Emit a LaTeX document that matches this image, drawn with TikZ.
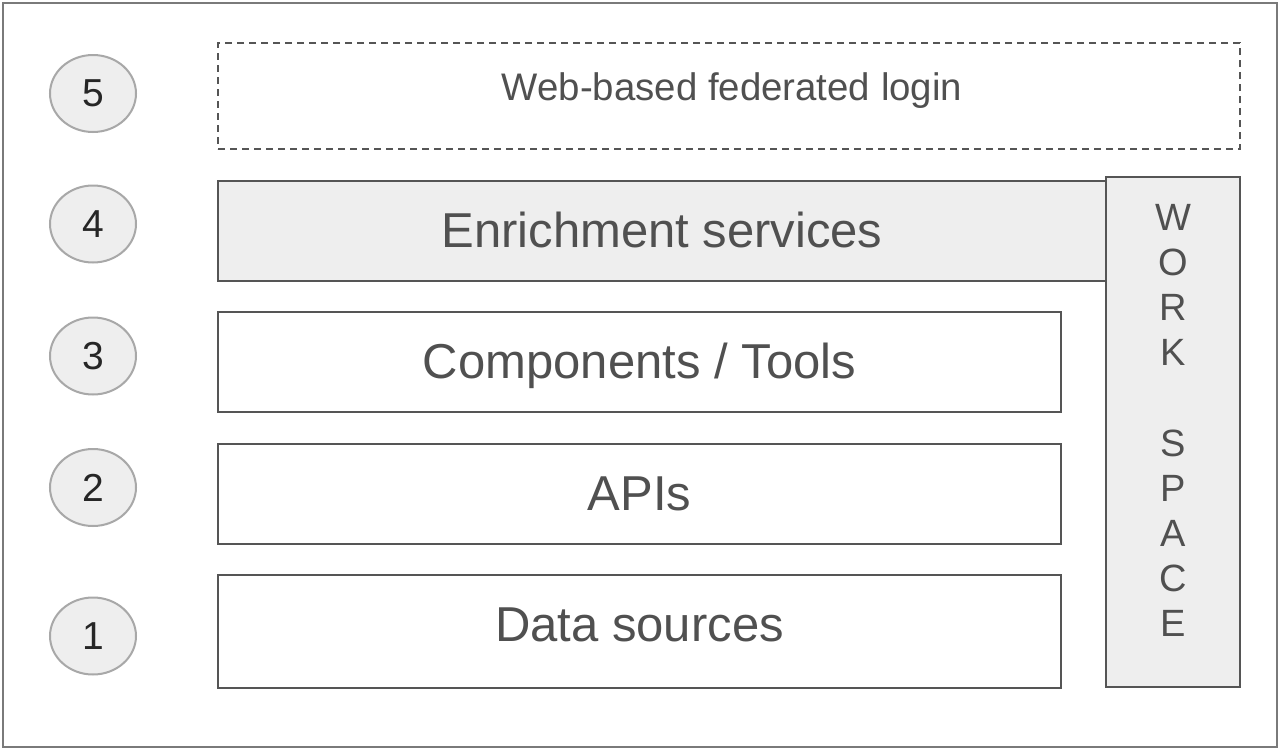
\documentclass[tikz,border=0pt]{standalone}
\usepackage{fontspec}
\setmainfont{Liberation Sans}
\usetikzlibrary{shapes.geometric}
\definecolor{boxline}{HTML}{555555}
\definecolor{boxfill}{HTML}{EEEEEE}
\definecolor{circline}{HTML}{A8A8A8}
\definecolor{txtgray}{HTML}{505050}
\definecolor{frameline}{HTML}{7A7A7A}
\tikzset{
  layerbox/.style={draw=boxline, line width=2.5pt, rectangle, inner sep=0pt, outer sep=0pt},
  dashbox/.style={draw=boxline, line width=2pt, dash pattern=on 7pt off 5pt, rectangle, inner sep=0pt, outer sep=0pt},
  numcirc/.style={ellipse, draw=circline, line width=2pt, fill=boxfill, minimum width=86pt, minimum height=77pt, inner sep=0pt, text=black!85, font=\fontsize{39}{39}\selectfont},
  biglbl/.style={anchor=base, inner sep=0pt, text=txtgray, font=\fontsize{49}{49}\selectfont},
  smalllbl/.style={anchor=base, inner sep=0pt, text=txtgray, font=\fontsize{38.4}{38.4}\selectfont},
  wslbl/.style={anchor=base, inner sep=0pt, text=txtgray, font=\fontsize{38}{38}\selectfont},
}
\begin{document}
\begin{tikzpicture}[x=1pt, y=-1pt]
\useasboundingbox (0,0) rectangle (1280,750);
\fill[white] (0,0) rectangle (1280,750);
\draw[frameline, line width=2pt] (3,3) rectangle (1277,747);
% number circles
\node[numcirc] (c5) at (93,93.5) {5};
\node[numcirc] (c4) at (93,224) {4};
\node[numcirc] (c3) at (93,356) {3};
\node[numcirc] (c2) at (93,487.5) {2};
\node[numcirc] (c1) at (93,636) {1};
% layers
\node[dashbox, minimum width=1022pt, minimum height=106pt] (login) at (729,96) {};
\node[smalllbl] (loginlbl) at (732,100) {Web-based federated login};
\node[layerbox, fill=boxfill, minimum width=888pt, minimum height=100pt] (enrich) at (662,231) {};
\node[biglbl] (enrichlbl) at (662,247.5) {Enrichment services};
\node[layerbox, minimum width=843pt, minimum height=100pt] (comp) at (639.5,362) {};
\node[biglbl] (complbl) at (639.5,378.5) {Components / Tools};
\node[layerbox, minimum width=843pt, minimum height=100pt] (apis) at (639.5,494) {};
\node[biglbl] (apislbl) at (639.5,510.5) {APIs};
\node[layerbox, minimum width=843pt, minimum height=113pt] (data) at (639.5,631.5) {};
\node[biglbl] (datalbl) at (639.5,641.5) {Data sources};
% workspace
\node[layerbox, fill=boxfill, minimum width=134pt, minimum height=510pt] (ws) at (1173,432) {};
\foreach \ch/\i in {W/0,O/1,R/2,K/3,S/5,P/6,A/7,C/8,E/9}{
  \node[wslbl] (ws\i) at (1173,{216.5+13.6+45.2*\i}) {\ch};
}
\end{tikzpicture}
\end{document}
